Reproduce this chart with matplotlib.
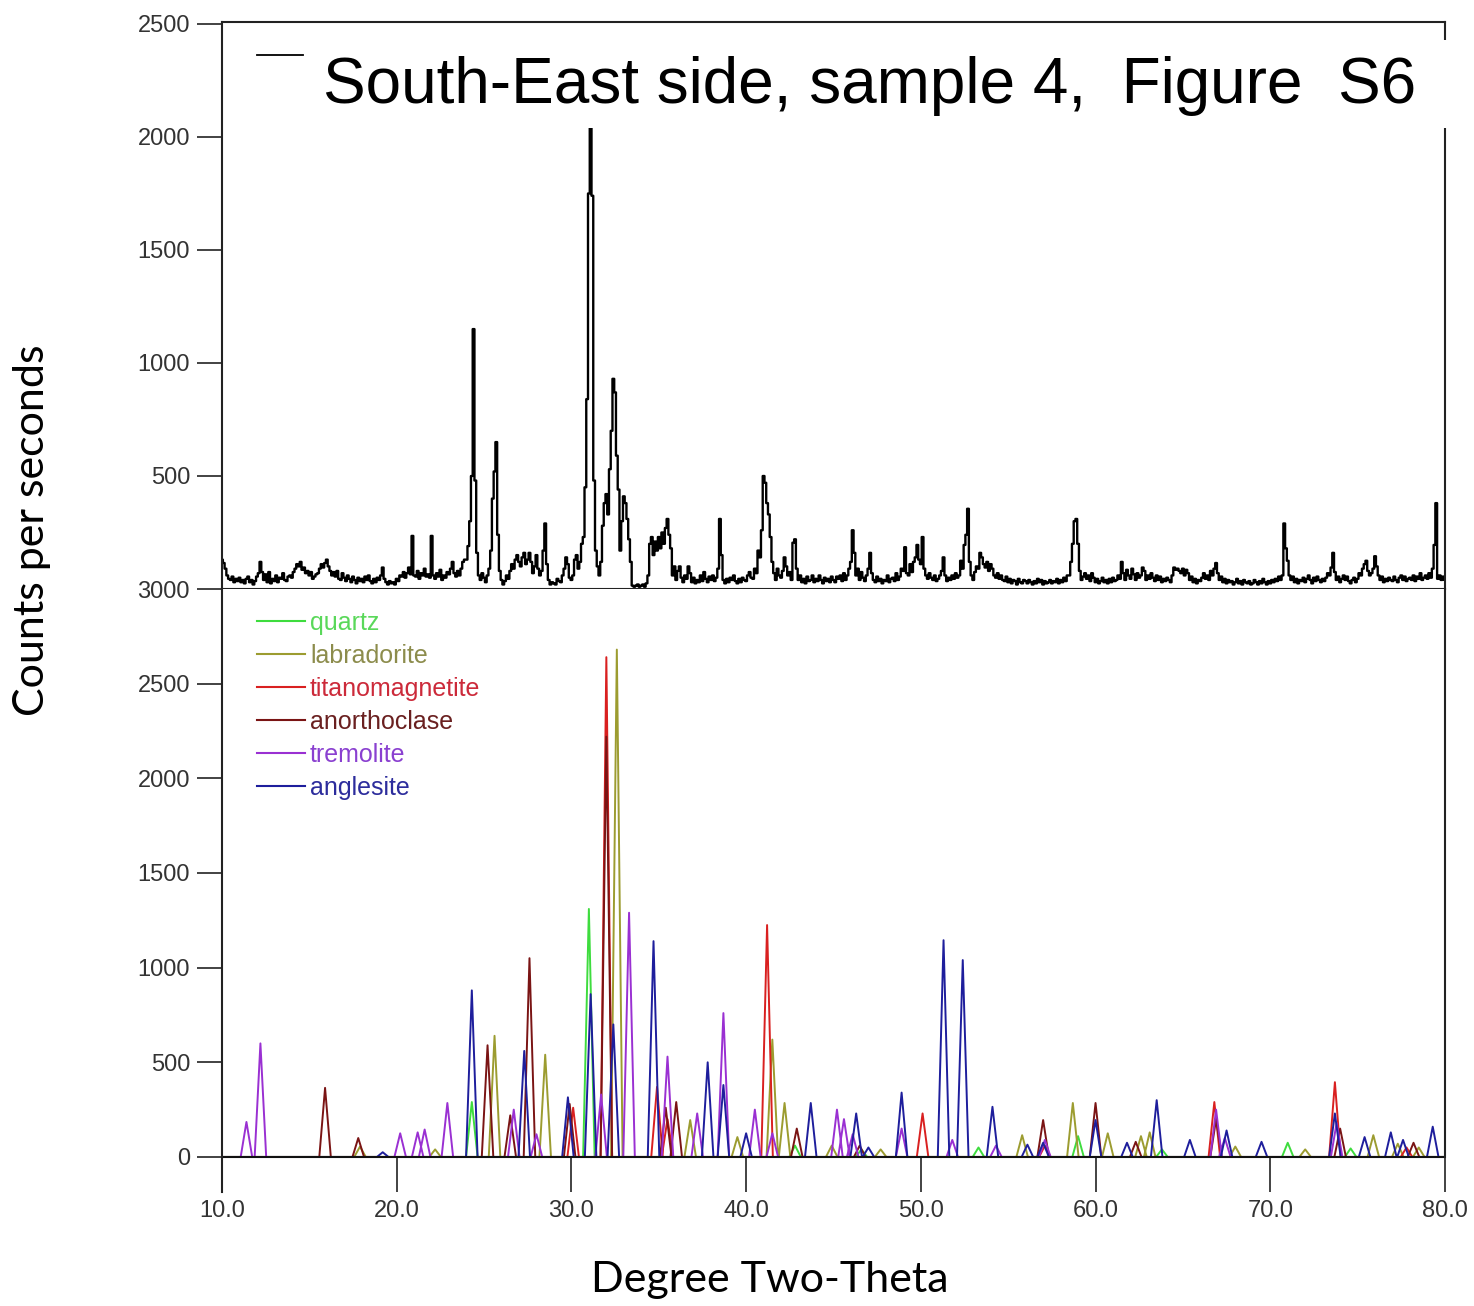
import numpy as np
import matplotlib.pyplot as plt
from matplotlib.lines import Line2D
from matplotlib.patches import Rectangle

# measured pattern (counts), one value per 0.1 deg from 10.0 to 80.0
scan_start = 10.0
scan_step = 0.1
sample_counts = [
    130, 115, 90, 60, 45, 40, 55, 30, 45, 35,          # 10
    50, 30, 40, 25, 45, 55, 30, 40, 20, 35,            # 11
    55, 70, 120, 75, 40, 65, 30, 75, 25, 45,           # 12
    35, 60, 30, 50, 45, 70, 40, 35, 55, 60,            # 13
    50, 75, 90, 110, 100, 120, 85, 95, 70, 80,         # 14
    60, 75, 45, 55, 65, 70, 90, 110, 95, 115,          # 15
    130, 100, 80, 60, 75, 55, 80, 45, 40, 70,          # 16
    50, 35, 60, 45, 30, 55, 40, 25, 50, 35,            # 17
    45, 30, 55, 40, 60, 35, 25, 45, 30, 50,            # 18
    40, 60, 95, 45, 30, 20, 35, 25, 30, 20,            # 19
    45, 35, 60, 55, 75, 50, 70, 95, 65, 235,           # 20
    60, 55, 80, 45, 70, 60, 90, 55, 65, 50,            # 21
    235, 60, 45, 70, 55, 85, 40, 60, 50, 75,           # 22
    65, 90, 120, 70, 55, 80, 60, 90, 120, 130,         # 23
    130, 190, 300, 500, 1150, 480, 160, 60, 40, 70,    # 24
    50, 30, 60, 90, 170, 400, 520, 650, 240, 80,       # 25
    40, 20, 35, 60, 45, 80, 110, 90, 130, 150,         # 26
    120, 100, 140, 160, 110, 130, 160, 120, 70, 100,   # 27
    150, 90, 60, 80, 170, 290, 110, 40, 20, 30,        # 28
    25, 20, 45, 35, 30, 60, 90, 140, 110, 50,          # 29
    40, 60, 130, 150, 90, 120, 200, 230, 450, 840,     # 30
    1750, 2040, 1740, 480, 170, 100, 60, 120, 280, 380,  # 31
    420, 330, 530, 700, 930, 870, 590, 440, 170, 300,  # 32
    410, 380, 310, 220, 120, 15, 10, 15, 20, 10,       # 33
    15, 20, 10, 25, 60, 200, 230, 150, 210, 170,       # 34
    230, 180, 250, 200, 270, 310, 240, 180, 60, 100,   # 35
    40, 80, 100, 50, 30, 60, 45, 100, 70, 30,          # 36
    50, 25, 40, 30, 60, 35, 75, 45, 30, 55,            # 37
    40, 60, 35, 50, 90, 310, 150, 40, 25, 45,          # 38
    30, 50, 40, 60, 35, 25, 45, 30, 50, 40,            # 39
    35, 60, 75, 50, 45, 90, 70, 170, 140, 260,         # 40
    500, 470, 380, 330, 230, 120, 70, 40, 90, 60,      # 41
    50, 80, 140, 100, 60, 75, 40, 205, 220, 90,        # 42
    40, 60, 30, 45, 25, 55, 35, 40, 60, 30,            # 43
    45, 35, 60, 40, 25, 50, 35, 45, 30, 55,            # 44
    40, 30, 55, 45, 60, 35, 70, 40, 60, 90,            # 45
    120, 260, 160, 60, 90, 40, 75, 50, 35, 60,         # 46
    90, 160, 70, 40, 30, 55, 35, 45, 25, 40,           # 47
    35, 60, 30, 45, 50, 35, 70, 40, 55, 90,            # 48
    80, 185, 70, 60, 110, 75, 120, 140, 195, 130,      # 49
    110, 230, 90, 60, 45, 70, 50, 40, 60, 35,          # 50
    45, 60, 80, 140, 60, 35, 50, 40, 60, 45,           # 51
    70, 50, 60, 125, 90, 195, 240, 355, 120, 60,       # 52
    40, 75, 100, 90, 160, 140, 110, 95, 120, 80,       # 53
    110, 90, 60, 50, 70, 45, 60, 40, 35, 55,           # 54
    30, 45, 25, 40, 35, 20, 45, 30, 25, 40,            # 55
    35, 25, 40, 30, 20, 35, 25, 45, 30, 40,            # 56
    20, 35, 25, 30, 40, 25, 35, 30, 45, 25,            # 57
    40, 30, 50, 35, 60, 60, 120, 200, 300, 310,        # 58
    200, 80, 40, 55, 70, 45, 60, 35, 70, 50,           # 59
    30, 45, 25, 35, 50, 30, 40, 25, 45, 30,            # 60
    50, 35, 40, 60, 45, 120, 70, 40, 85, 60,           # 61
    45, 90, 65, 40, 70, 50, 60, 95, 80, 40,            # 62
    60, 45, 70, 50, 35, 60, 40, 55, 30, 45,            # 63
    35, 50, 40, 30, 60, 95, 85, 90, 80, 70,            # 64
    90, 60, 85, 70, 40, 55, 30, 45, 25, 40,            # 65
    35, 50, 70, 45, 60, 40, 80, 60, 90, 115,           # 66
    70, 40, 55, 30, 45, 25, 40, 30, 35, 20,            # 67
    30, 45, 25, 35, 20, 40, 30, 25, 35, 20,            # 68
    25, 40, 30, 20, 35, 25, 45, 30, 20, 35,            # 69
    25, 40, 30, 45, 35, 55, 40, 60, 290, 180,          # 70
    125, 60, 40, 55, 30, 45, 25, 40, 35, 50,           # 71
    30, 45, 60, 40, 25, 50, 35, 55, 40, 30,            # 72
    45, 35, 50, 70, 60, 95, 160, 75, 40, 55,           # 73
    30, 45, 60, 40, 55, 35, 25, 40, 50, 30,            # 74
    45, 70, 60, 90, 110, 125, 80, 60, 70, 90,          # 75
    145, 100, 60, 40, 55, 30, 45, 35, 50, 40,          # 76
    35, 55, 40, 30, 50, 60, 40, 55, 35, 45,            # 77
    50, 40, 60, 35, 55, 45, 70, 40, 50, 60,            # 78
    45, 70, 50, 90, 195, 380, 45, 60, 40, 55,          # 79
    40,                                                # 80
]

# reference phases: peak position (deg 2-theta) and intensity
quartz_pos = [24.3, 31.0, 42.8, 46.6, 53.3, 59.0, 63.8, 71.0, 74.6]
quartz_int = [290, 1310, 60, 40, 50, 110, 40, 75, 45]

labradorite_pos = [17.9, 22.2, 25.6, 28.5, 32.6, 36.8, 39.5, 41.5, 42.2, 44.9, 47.7,
                   55.8, 58.7, 60.7, 62.6, 63.1, 68.0, 72.0, 75.9, 77.3, 78.5]
labradorite_int = [55, 40, 640, 540, 2680, 195, 105, 620, 285, 60, 40,
                   115, 285, 125, 110, 130, 55, 40, 115, 70, 50]

titanomagnetite_pos = [30.1, 32.0, 34.9, 35.5, 41.2, 50.1, 57.1, 66.8, 73.7, 77.8]
titanomagnetite_int = [260, 2640, 370, 200, 1225, 230, 60, 290, 395, 50]

anorthoclase_pos = [15.9, 17.8, 25.2, 26.5, 27.6, 29.9, 32.0, 35.4, 36.0, 42.9, 46.5,
                    57.0, 60.0, 62.3, 66.9, 74.0, 78.2]
anorthoclase_int = [365, 100, 590, 220, 1050, 280, 2220, 260, 290, 150, 60,
                    195, 285, 80, 200, 150, 75]

tremolite_pos = [11.4, 12.2, 20.2, 21.2, 21.6, 22.9, 26.7, 28.0, 31.7, 33.3, 35.5, 37.2,
                 38.7, 40.5, 41.5, 45.2, 45.6, 46.1, 48.9, 51.8, 54.3, 57.1, 66.9, 67.4, 73.8]
tremolite_int = [185, 600, 125, 130, 145, 285, 250, 120, 330, 1290, 530, 230,
                 760, 250, 125, 250, 200, 120, 150, 90, 60, 90, 250, 100, 180]

anglesite_pos = [19.2, 24.3, 27.3, 29.8, 31.1, 32.4, 34.7, 37.8, 38.7, 40.0, 43.7, 46.3,
                 47.0, 48.9, 51.3, 52.4, 54.1, 56.1, 57.0, 60.0, 61.8, 63.5, 65.4, 67.5,
                 69.5, 73.7, 75.4, 76.9, 77.6, 79.3]
anglesite_int = [25, 880, 560, 315, 860, 700, 1140, 500, 380, 125, 285, 230,
                 50, 340, 1145, 1040, 265, 65, 75, 195, 75, 300, 90, 140,
                 80, 230, 105, 130, 90, 160]

mineral_names = ["quartz", "labradorite", "titanomagnetite", "anorthoclase", "tremolite", "anglesite"]
mineral_colors = ["#3edc3e", "#9c9c30", "#d92020", "#7a1414", "#9a30d2", "#1e1e9c"]
label_colors = ["#5ad85a", "#8c8c4c", "#cc2a3a", "#6a2020", "#8a40d0", "#2c2c9c"]
mineral_peaks = [
    (quartz_pos, quartz_int),
    (labradorite_pos, labradorite_int),
    (titanomagnetite_pos, titanomagnetite_int),
    (anorthoclase_pos, anorthoclase_int),
    (tremolite_pos, tremolite_int),
    (anglesite_pos, anglesite_int),
]

HALF_WIDTH = 0.33


def peak_trace(positions, heights):
    xs, ys = [10.0], [0]
    for p, h in sorted(zip(positions, heights)):
        xs += [p - HALF_WIDTH, p, p + HALF_WIDTH]
        ys += [0, h, 0]
    xs.append(80.0)
    ys.append(0)
    return xs, ys


fig = plt.figure(figsize=(14.74, 13.06), dpi=100)
ax1 = fig.add_axes([0.1506, 0.5490, 0.8297, 0.4342])
ax2 = fig.add_axes([0.1506, 0.0873, 0.8297, 0.4617])

# --- top: measured sample ---
two_theta = scan_start + scan_step * np.arange(len(sample_counts))
ax1.plot(two_theta, sample_counts, drawstyle="steps-mid", color="black", lw=1.7)
ax1.set_xlim(10, 80)
ax1.set_ylim(0, 2509)
ax1.set_xticks([])
ax1.set_yticks([500, 1000, 1500, 2000, 2500])
ax1.tick_params(axis="y", direction="out", length=18, width=1.2, pad=5,
                labelsize=17, labelcolor="#333333", color="#222222")
for lbl in ax1.get_yticklabels():
    lbl.set_family("Liberation Sans")
for s in ax1.spines.values():
    s.set_linewidth(1.5)
    s.set_color("#222222")

# title box hides the right spine behind it
ax1.add_patch(Rectangle((0.02, 0.813), 0.99, 0.155, transform=ax1.transAxes,
                        facecolor="white", edgecolor="none", zorder=3, clip_on=False))
ax1.add_line(Line2D([0.0286, 0.0662], [0.9418, 0.9418], transform=ax1.transAxes,
                    color="black", lw=1.3, zorder=4))
ax1.text(0.0826, 0.857, "South-East side, sample 4,  Figure  S6", transform=ax1.transAxes,
         fontsize=46, family="Liberation Sans", va="baseline", ha="left", zorder=5)

# --- bottom: reference phases ---
for (pos, inten), color in zip(mineral_peaks, mineral_colors):
    xs, ys = peak_trace(pos, inten)
    ax2.plot(xs, ys, color=color, lw=1.4)
ax2.axhline(0, color="#111111", lw=1.5)
ax2.set_xlim(10, 80)
ax2.set_ylim(-185, 3000)
ax2.set_yticks(range(0, 3001, 500))
ax2.set_xticks(range(10, 81, 10))
ax2.set_xticklabels([f"{v:.1f}" for v in range(10, 81, 10)])
ax2.tick_params(axis="y", direction="out", length=18, width=1.2, pad=5,
                labelsize=17, labelcolor="#333333", color="#222222")
ax2.tick_params(axis="x", direction="in", length=25.2, width=1.2, pad=6,
                labelsize=17, labelcolor="#333333", color="#222222")
for lbl in ax2.get_yticklabels() + ax2.get_xticklabels():
    lbl.set_family("Liberation Sans")
ax2.spines["top"].set_visible(False)
ax2.spines["bottom"].set_visible(False)
ax2.spines["right"].set_bounds(0, 3000)
for s in ax2.spines.values():
    s.set_linewidth(1.5)
    s.set_color("#222222")

for i, (name, color, tcolor) in enumerate(zip(mineral_names, mineral_colors, label_colors)):
    y = 0.947 - i * 0.0547
    ax2.add_line(Line2D([0.0286, 0.0679], [y, y], transform=ax2.transAxes, color=color, lw=1.5))
    ax2.text(0.072, y - 0.015, name, transform=ax2.transAxes, color=tcolor,
             fontsize=18, family="Liberation Sans", va="baseline", ha="left")

fig.text(32 / 1474, 1 - 530 / 1306, "Counts per seconds", rotation=90,
         ha="center", va="center", fontsize=31, family="Lato")
fig.text(770 / 1474, 1 - 1280 / 1306, "Degree Two-Theta",
         ha="center", va="center", fontsize=31, family="Lato")

fig.savefig("out.png", dpi=100, facecolor="white")
